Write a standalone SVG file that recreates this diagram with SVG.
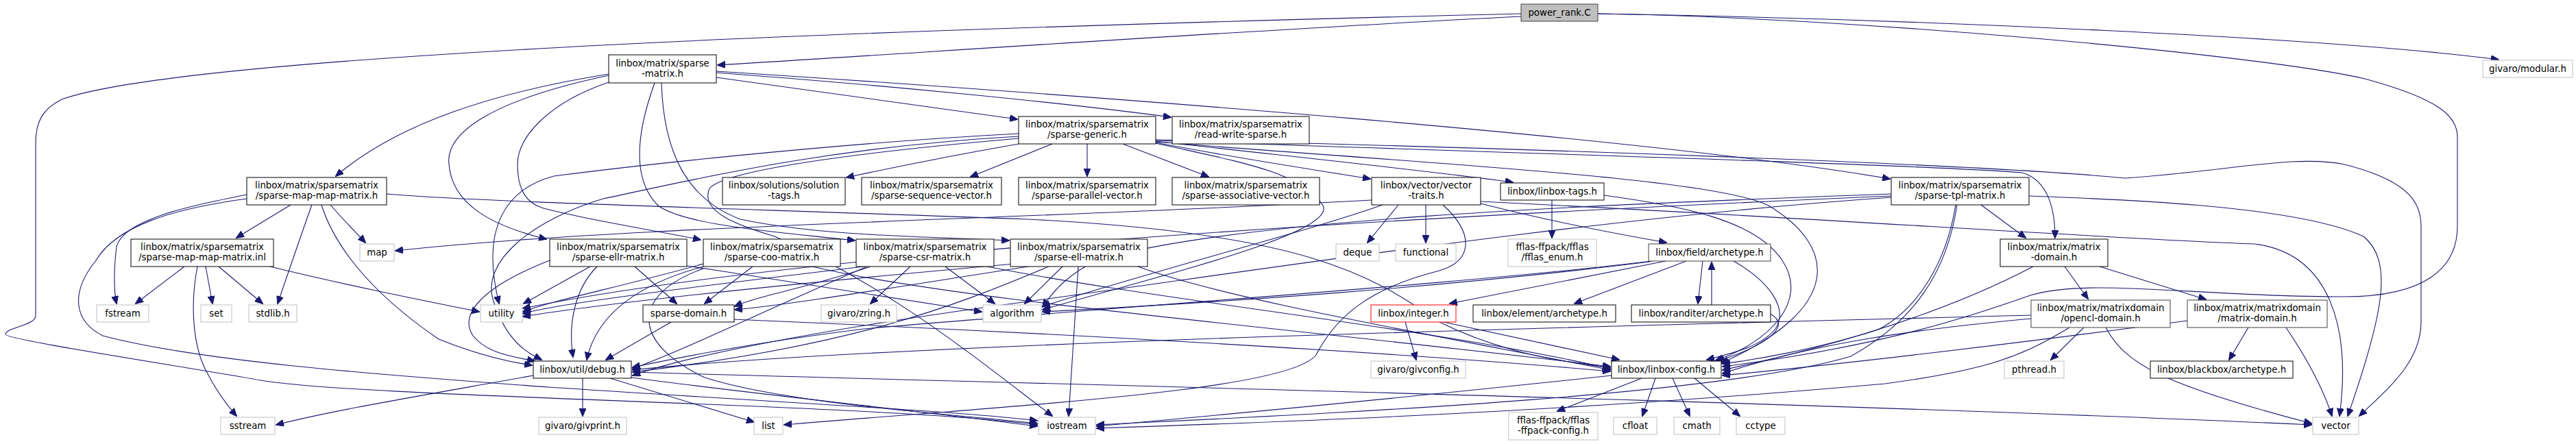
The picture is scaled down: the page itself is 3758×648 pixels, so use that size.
<svg xmlns="http://www.w3.org/2000/svg" width="3758" height="648" viewBox="0 0 3758 648">
<style>
.n rect{fill:#fff;stroke:#000;stroke-width:1}
.g rect{fill:#fff;stroke:#bfbfbf;stroke-width:1}
.d rect{fill:#fff;stroke:#404040;stroke-width:1}
text{font-family:"DejaVu Sans","Liberation Sans",sans-serif;font-size:13.33px;text-anchor:middle;fill:#000}
#edges path{fill:none;stroke:#191970;stroke-width:1.1;marker-end:url(#a)}
</style>
<defs>
<marker id="a" markerWidth="12" markerHeight="10" refX="11" refY="5" orient="auto" markerUnits="userSpaceOnUse"><path d="M0,0 L12,5 L0,10 z" fill="#191970" stroke="#191970"/></marker>
</defs>
<rect width="3758" height="648" fill="#fff"/>
<g id="edges">
<path d="M2219,24 C1800,45 1300,80 1047,95"/>
<path d="M2219,20 C1600,35 300,70 90,145 C60,160 52,180 52,210 L52,461 C52,475 8,478 8,488 C8,496 300,540 380,555 C520,580 1300,590 1513,620"/>
<path d="M2331,20 C2800,28 3400,55 3645,87"/>
<path d="M2331,20 C2700,25 3300,80 3450,115 C3560,145 3585,170 3585,200 L3585,330 C3585,390 3540,433 3420,433 C3200,433 3050,405 2962,431 C2880,460 2750,505 2513,535"/>
<path d="M1045,113 C1200,135 1350,155 1484,174"/>
<path d="M1045,106 C1300,125 1550,150 1708,171"/>
<path d="M1045,104 C1600,140 2400,200 2757,261"/>
<path d="M888,108 C720,135 580,180 490,257"/>
<path d="M888,110 C700,150 650,200 655,240 C660,300 720,330 797,349"/>
<path d="M888,120 C800,150 755,200 755,240 C755,280 770,296 790,303 C850,320 950,335 1022,350"/>
<path d="M955,121 C930,190 920,260 960,300 C1000,330 1150,340 1247,351"/>
<path d="M965,121 C968,220 1000,290 1080,320 C1200,345 1350,345 1472,351"/>
<path d="M1486,210 C1400,225 1300,245 1235,259"/>
<path d="M1535,210 L1416,258"/>
<path d="M1586,210 L1586,257"/>
<path d="M1638,210 L1763,258"/>
<path d="M1686,208 C1800,230 1900,245 1999,261"/>
<path d="M1686,206 C1850,225 2050,245 2207,266"/>
<path d="M1686,205 C2100,220 2800,240 2950,252 C2985,262 2998,300 2998,347"/>
<path d="M1686,204 C2200,215 2900,240 3100,260 C3250,250 3350,225 3420,240 C3520,265 3532,300 3532,330 L3532,470 C3532,530 3480,570 3442,607"/>
<path d="M1486,195 C1200,210 900,245 808,257 C740,275 700,330 728,443"/>
<path d="M1486,199 C1200,215 1000,265 880,290 C780,320 700,380 720,440 C740,500 770,515 790,525"/>
<path d="M1486,202 C1300,218 1060,245 1035,275 C1020,310 1080,330 1130,345 C1300,420 1420,520 1535,607"/>
<path d="M1686,207 C2100,240 2500,260 2580,300 C2680,360 2690,450 2511,530"/>
<path d="M1686,209 C1800,235 1900,250 1930,300 C1950,340 1700,400 1521,452"/>
<path d="M424,299 L345,347"/>
<path d="M455,299 C440,340 420,400 405,443"/>
<path d="M482,299 C500,320 520,340 533,354"/>
<path d="M360,284 C280,300 180,320 170,360 C165,400 167,430 170,443"/>
<path d="M469,299 C485,350 530,420 640,495 C690,515 740,528 776,533"/>
<path d="M360,290 C250,305 170,330 140,380 C100,430 110,470 150,490 C300,530 600,550 800,565 C1100,585 1400,600 1513,614"/>
<path d="M564,283 C700,295 1100,305 1500,320 C1900,340 2000,400 2100,470 C2200,520 2300,530 2349,537"/>
<path d="M269,389 L198,443"/>
<path d="M300,389 L310,443"/>
<path d="M319,389 L383,443"/>
<path d="M288,389 C278,440 280,500 300,540 C315,570 330,590 345,607"/>
<path d="M394,389 C500,415 600,435 699,455"/>
<path d="M861,389 L764,443"/>
<path d="M871,389 C840,420 828,470 836,521"/>
<path d="M926,389 L987,443"/>
<path d="M802,380 C700,420 670,460 690,490 C710,515 745,520 780,527"/>
<path d="M1002,388 C1150,410 1300,435 1432,455"/>
<path d="M1098,389 L1028,443"/>
<path d="M1026,385 C900,420 800,440 763,455"/>
<path d="M1026,389 C930,415 870,460 856,525"/>
<path d="M1026,392 C920,430 920,500 1028,551 C1150,590 1400,605 1513,618"/>
<path d="M1185,389 C1400,440 1900,480 2349,535"/>
<path d="M1328,389 L1270,443"/>
<path d="M1379,389 L1451,443"/>
<path d="M1260,389 C1000,420 800,445 763,458"/>
<path d="M1270,389 C1180,420 1110,430 1072,447"/>
<path d="M1265,389 C1100,460 1000,510 923,538"/>
<path d="M1440,389 C1700,440 2100,480 2349,538"/>
<path d="M1550,389 L1495,443"/>
<path d="M1573,389 L1559,607"/>
<path d="M1500,389 C1300,420 1150,445 1072,452"/>
<path d="M1530,389 C1383,451 1240,505 923,543"/>
<path d="M1480,385 C1200,410 900,440 763,462"/>
<path d="M1660,389 C1800,440 2100,490 2349,540"/>
<path d="M979,470 L884,525"/>
<path d="M1069,466 C1400,480 2000,510 2349,542"/>
<path d="M850,552 L850,607"/>
<path d="M890,552 L1100,616"/>
<path d="M778,548 C600,580 480,600 403,620"/>
<path d="M921,551 C1100,575 1300,595 1513,622"/>
<path d="M921,543 C1500,560 2600,585 3372,620"/>
<path d="M2017,299 C1900,340 1700,390 1521,447"/>
<path d="M2001,292 C1500,320 900,330 577,366"/>
<path d="M2040,299 L1995,354"/>
<path d="M2080,299 L2080,354"/>
<path d="M2105,299 C2150,340 2150,380 2100,395 C2000,420 1950,460 1920,518 C1880,570 1500,590 1144,620"/>
<path d="M2160,297 C2250,320 2350,340 2431,354"/>
<path d="M2160,294 C2600,315 3100,350 3289,356 C3400,370 3430,480 3413,607"/>
<path d="M2264,292 L2264,347"/>
<path d="M2340,285 C2450,300 2560,320 2600,380 C2640,440 2580,500 2503,526"/>
<path d="M2890,299 L2955,347"/>
<path d="M2872,283 C3100,290 3350,300 3448,345 C3490,380 3480,450 3425,607"/>
<path d="M2853,299 C2840,380 2800,450 2740,481 C2650,510 2560,525 2513,531"/>
<path d="M2855,299 C2840,400 2790,470 2700,520 C2500,580 1900,605 1600,620"/>
<path d="M2759,283 C2300,300 1800,320 1600,380 C1560,400 1540,420 1521,448"/>
<path d="M2759,288 C2300,320 1800,400 1500,440 C1200,480 1000,520 923,548"/>
<path d="M2759,286 C2200,310 1200,360 763,450"/>
<path d="M2430,381 L2115,443"/>
<path d="M2460,381 L2297,443"/>
<path d="M2484,381 L2477,443"/>
<path d="M2497,445 L2497,383"/>
<path d="M2529,381 C2580,410 2610,450 2590,480 C2570,505 2530,515 2490,525"/>
<path d="M2431,378 C2200,410 1600,450 1260,480 C1100,500 1000,520 923,536"/>
<path d="M2407,382 C2100,420 1800,440 1521,455"/>
<path d="M2050,470 L2066,525"/>
<path d="M2106,470 L2362,525"/>
<path d="M2583,458 C2620,480 2560,510 2505,527"/>
<path d="M2395,552 L2272,600"/>
<path d="M2415,552 L2396,607"/>
<path d="M2440,552 L2465,607"/>
<path d="M2472,552 L2538,607"/>
<path d="M2351,548 C2100,575 1900,595 1600,622"/>
<path d="M3012,389 L3046,436"/>
<path d="M3063,389 L3218,437"/>
<path d="M2966,389 C2850,450 2700,500 2513,540"/>
<path d="M3040,478 L2992,525"/>
<path d="M3072,478 C3100,530 3150,560 3372,618"/>
<path d="M2963,465 C2800,480 2650,500 2513,545"/>
<path d="M3019,478 C2950,520 2900,540 2750,560 C2300,600 1900,615 1600,625"/>
<path d="M2963,460 C2400,475 1300,500 923,540"/>
<path d="M3280,478 L3252,525"/>
<path d="M3335,478 C3370,530 3390,570 3402,607"/>
<path d="M3191,468 C2950,500 2700,530 2513,548"/>
</g>
<g id="power_rank" class="n"><rect x="2219" y="6" width="112" height="25" style="fill:#bfbfbf;stroke:#404040"/><text x="2275" y="23">power_rank.C</text></g>
<g id="modular" class="g"><rect x="3622" y="88" width="131" height="25"/><text x="3687.5" y="105">givaro/modular.h</text></g>
<g id="sparse_matrix" class="n"><rect x="888" y="80" width="157" height="41"/><text x="966.5" y="97">linbox/matrix/sparse</text><text x="966.5" y="112">-matrix.h</text></g>
<g id="sparse_generic" class="n"><rect x="1486" y="170" width="200" height="40"/><text x="1586" y="186">linbox/matrix/sparsematrix</text><text x="1586" y="201">/sparse-generic.h</text></g>
<g id="read_write" class="n"><rect x="1710" y="170" width="200" height="40"/><text x="1810" y="186">linbox/matrix/sparsematrix</text><text x="1810" y="201">/read-write-sparse.h</text></g>
<g id="map_map" class="n"><rect x="360" y="259" width="204" height="40"/><text x="462" y="275">linbox/matrix/sparsematrix</text><text x="462" y="290">/sparse-map-map-matrix.h</text></g>
<g id="solution_tags" class="n"><rect x="1054" y="259" width="179" height="40"/><text x="1143.5" y="275">linbox/solutions/solution</text><text x="1143.5" y="290">-tags.h</text></g>
<g id="seq_vec" class="n"><rect x="1257" y="259" width="204" height="40"/><text x="1359" y="275">linbox/matrix/sparsematrix</text><text x="1359" y="290">/sparse-sequence-vector.h</text></g>
<g id="par_vec" class="n"><rect x="1486" y="259" width="200" height="40"/><text x="1586" y="275">linbox/matrix/sparsematrix</text><text x="1586" y="290">/sparse-parallel-vector.h</text></g>
<g id="assoc_vec" class="n"><rect x="1710" y="259" width="215" height="40"/><text x="1817.5" y="275">linbox/matrix/sparsematrix</text><text x="1817.5" y="290">/sparse-associative-vector.h</text></g>
<g id="vector_traits" class="n"><rect x="2001" y="259" width="159" height="40"/><text x="2080.5" y="275">linbox/vector/vector</text><text x="2080.5" y="290">-traits.h</text></g>
<g id="linbox_tags" class="n"><rect x="2189" y="267" width="151" height="25"/><text x="2264.5" y="284">linbox/linbox-tags.h</text></g>
<g id="tpl" class="n"><rect x="2759" y="259" width="201" height="40"/><text x="2859.5" y="275">linbox/matrix/sparsematrix</text><text x="2859.5" y="290">/sparse-tpl-matrix.h</text></g>
<g id="map_map_inl" class="n"><rect x="191" y="349" width="208" height="40"/><text x="295" y="365">linbox/matrix/sparsematrix</text><text x="295" y="380">/sparse-map-map-matrix.inl</text></g>
<g id="map" class="g"><rect x="525" y="356" width="50" height="25"/><text x="550" y="373">map</text></g>
<g id="fstream" class="g"><rect x="141" y="445" width="76" height="25"/><text x="179" y="462">fstream</text></g>
<g id="set" class="g"><rect x="293" y="445" width="45" height="25"/><text x="315.5" y="462">set</text></g>
<g id="stdlib" class="g"><rect x="363" y="445" width="70" height="25"/><text x="398" y="462">stdlib.h</text></g>
<g id="sstream" class="g"><rect x="322" y="609" width="79" height="25"/><text x="361.5" y="626">sstream</text></g>
<g id="ellr" class="n"><rect x="802" y="349" width="200" height="40"/><text x="902" y="365">linbox/matrix/sparsematrix</text><text x="902" y="380">/sparse-ellr-matrix.h</text></g>
<g id="coo" class="n"><rect x="1026" y="349" width="200" height="40"/><text x="1126" y="365">linbox/matrix/sparsematrix</text><text x="1126" y="380">/sparse-coo-matrix.h</text></g>
<g id="csr" class="n"><rect x="1249" y="349" width="201" height="40"/><text x="1349.5" y="365">linbox/matrix/sparsematrix</text><text x="1349.5" y="380">/sparse-csr-matrix.h</text></g>
<g id="ell" class="n"><rect x="1474" y="349" width="200" height="40"/><text x="1574" y="365">linbox/matrix/sparsematrix</text><text x="1574" y="380">/sparse-ell-matrix.h</text></g>
<g id="utility" class="g"><rect x="701" y="445" width="61" height="25"/><text x="731.5" y="462">utility</text></g>
<g id="sparse_domain" class="n"><rect x="938" y="445" width="133" height="25"/><text x="1004.5" y="462">sparse-domain.h</text></g>
<g id="debug" class="n"><rect x="778" y="527" width="143" height="25"/><text x="849.5" y="544">linbox/util/debug.h</text></g>
<g id="givprint" class="g"><rect x="786" y="609" width="128" height="25"/><text x="850" y="626">givaro/givprint.h</text></g>
<g id="list" class="g"><rect x="1100" y="609" width="42" height="25"/><text x="1121" y="626">list</text></g>
<g id="zring" class="g"><rect x="1198" y="445" width="110" height="25"/><text x="1253" y="462">givaro/zring.h</text></g>
<g id="algorithm" class="g"><rect x="1434" y="445" width="85" height="25"/><text x="1476.5" y="462">algorithm</text></g>
<g id="iostream" class="g"><rect x="1515" y="609" width="83" height="25"/><text x="1556.5" y="626">iostream</text></g>
<g id="deque" class="g"><rect x="1949" y="356" width="63" height="25"/><text x="1980.5" y="373">deque</text></g>
<g id="functional" class="g"><rect x="2036" y="356" width="88" height="25"/><text x="2080" y="373">functional</text></g>
<g id="fflas_enum" class="g"><rect x="2200" y="349" width="129" height="40"/><text x="2264.5" y="365">fflas-ffpack/fflas</text><text x="2264.5" y="380">/fflas_enum.h</text></g>
<g id="field_archetype" class="d"><rect x="2405" y="356" width="178" height="25"/><text x="2494" y="373">linbox/field/archetype.h</text></g>
<g id="integer" class="n"><rect x="2000" y="445" width="124" height="25" style="stroke:#ff0000"/><text x="2062" y="462">linbox/integer.h</text></g>
<g id="element_archetype" class="n"><rect x="2149" y="445" width="208" height="25"/><text x="2253" y="462">linbox/element/archetype.h</text></g>
<g id="randiter_archetype" class="n"><rect x="2380" y="445" width="203" height="25"/><text x="2481.5" y="462">linbox/randiter/archetype.h</text></g>
<g id="givconfig" class="g"><rect x="2000" y="527" width="138" height="25"/><text x="2069" y="544">givaro/givconfig.h</text></g>
<g id="linbox_config" class="n"><rect x="2351" y="527" width="160" height="25"/><text x="2431" y="544">linbox/linbox-config.h</text></g>
<g id="ffpack_config" class="g"><rect x="2201" y="602" width="130" height="40"/><text x="2266" y="618">fflas-ffpack/fflas</text><text x="2266" y="633">-ffpack-config.h</text></g>
<g id="cfloat" class="g"><rect x="2354" y="609" width="63" height="25"/><text x="2385.5" y="626">cfloat</text></g>
<g id="cmath" class="g"><rect x="2442" y="609" width="67" height="25"/><text x="2475.5" y="626">cmath</text></g>
<g id="cctype" class="g"><rect x="2533" y="609" width="71" height="25"/><text x="2568.5" y="626">cctype</text></g>
<g id="matrix_domain" class="n"><rect x="2918" y="349" width="157" height="40"/><text x="2996.5" y="365">linbox/matrix/matrix</text><text x="2996.5" y="380">-domain.h</text></g>
<g id="opencl_domain" class="d"><rect x="2963" y="438" width="203" height="40"/><text x="3064.5" y="454">linbox/matrix/matrixdomain</text><text x="3064.5" y="469">/opencl-domain.h</text></g>
<g id="pthread" class="g"><rect x="2924" y="527" width="87" height="25"/><text x="2967.5" y="544">pthread.h</text></g>
<g id="md_matrix_domain" class="d"><rect x="3191" y="438" width="204" height="40"/><text x="3293" y="454">linbox/matrix/matrixdomain</text><text x="3293" y="469">/matrix-domain.h</text></g>
<g id="blackbox_archetype" class="n"><rect x="3137" y="527" width="208" height="25"/><text x="3241" y="544">linbox/blackbox/archetype.h</text></g>
<g id="vector" class="g"><rect x="3374" y="609" width="67" height="25"/><text x="3407.5" y="626">vector</text></g>
</svg>
